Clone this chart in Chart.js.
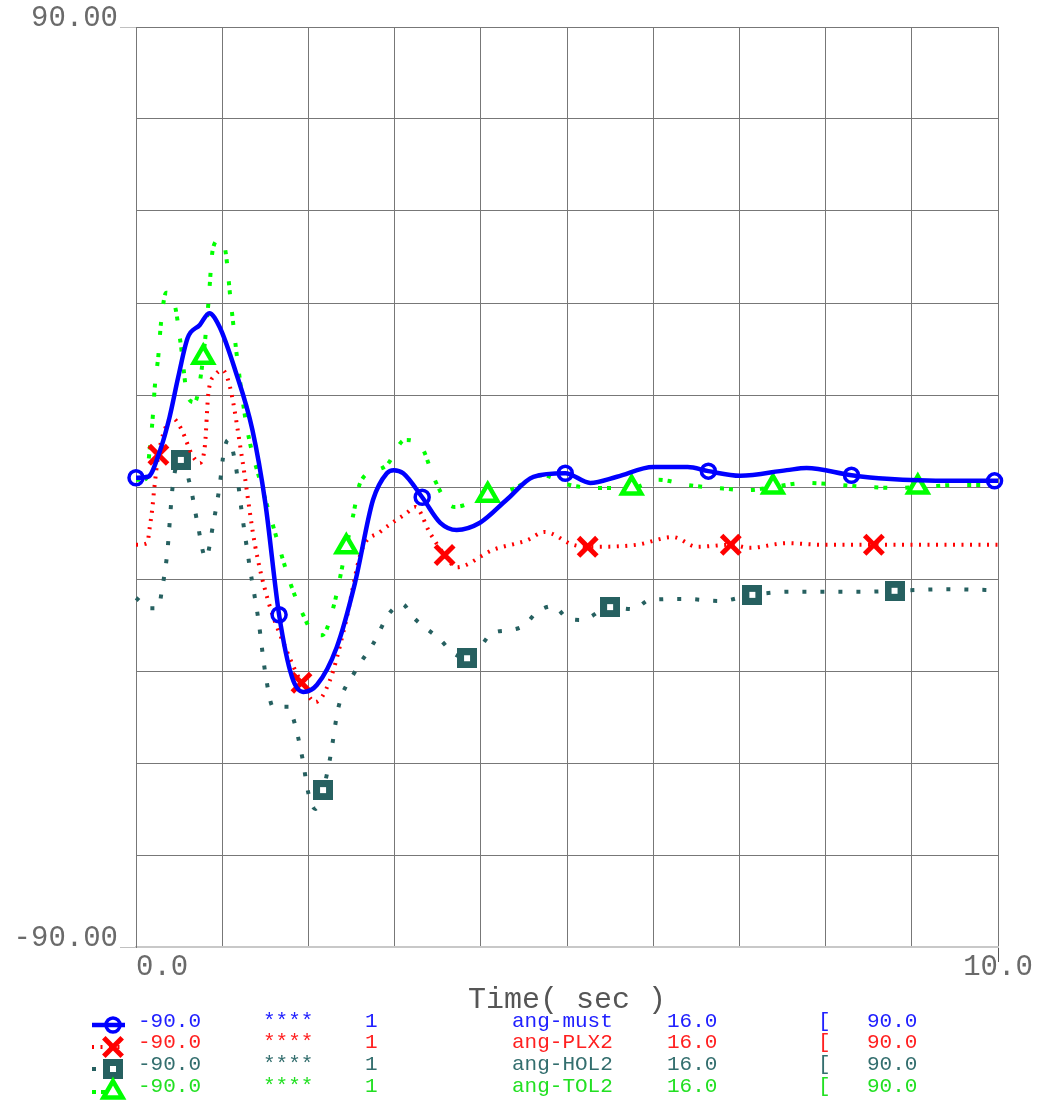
<!DOCTYPE html>
<html><head><meta charset="utf-8">
<script src="https://cdn.jsdelivr.net/npm/chart.js@4/dist/chart.umd.min.js"></script>
<style>
html,body{margin:0;padding:0;background:#fff;}
#wrap{position:relative;width:1038px;height:1105px;overflow:hidden;background:#fff;}
#c{position:absolute;left:0;top:0;}
.lg{position:absolute;font-family:'Liberation Mono',monospace;font-size:21px;line-height:21px;white-space:pre;}
</style></head><body>
<div id="wrap"><canvas id="c" width="1038" height="1105"></canvas></div>
<script>
// ---------- data (time in s, angle in degrees) ----------
const mustT = [0, 0.14, 0.28, 0.39, 0.49, 0.60, 0.74, 0.85, 0.97, 1.15, 1.35, 1.50, 1.66, 1.81, 1.94, 2.10, 2.33, 2.54, 2.75, 2.91, 2.99, 3.10, 3.32, 3.53, 3.72, 3.99, 4.30, 4.61, 4.98, 5.27, 5.58, 6.00, 6.40, 6.64, 7.01, 7.55, 7.78, 8.30, 8.71, 9.48, 9.96, 10.0];
const mustV = [1.8, 2.0, 7.2, 13.7, 21.5, 29.2, 31.7, 34.0, 31.3, 22.9, 11.2, -3.1, -25.0, -37.2, -40.1, -38.7, -31.3, -18.8, -2.5, 2.7, 3.3, 2.7, -2.0, -7.0, -8.4, -7.0, -2.5, 2.0, 2.7, 0.8, 2.0, 3.9, 3.9, 3.1, 2.2, 3.3, 3.7, 2.3, 1.6, 1.2, 1.2, 1.2];
const mustMarkT = [0, 1.66, 3.32, 4.98, 6.64, 8.30, 9.96];

const plxT = [0, 0.13, 0.16, 0.19, 0.21, 0.26, 0.37, 0.42, 0.53, 0.65, 0.74, 0.80, 0.84, 0.92, 1.00, 1.09, 1.23, 1.38, 1.53, 1.73, 1.92, 2.08, 2.25, 2.42, 2.62, 2.83, 3.14, 3.24, 3.41, 3.58, 3.72, 4.14, 4.54, 4.74, 5.07, 5.24, 5.81, 6.23, 6.51, 6.90, 7.12, 7.55, 7.97, 8.56, 9.20, 10.0];
const plxV = [-11.3, -11.0, -7.8, -4.1, -0.6, 6.3, 12.7, 13.5, 11.2, 6.3, 4.7, 8.2, 18.4, 21.9, 22.9, 19.6, 5.7, -11.3, -22.1, -31.3, -38.3, -42.1, -37.8, -27.4, -12.3, -8.8, -5.1, -3.9, -9.0, -13.3, -15.7, -12.3, -10.4, -8.8, -11.3, -11.7, -11.3, -9.8, -11.7, -11.3, -11.9, -11.0, -11.3, -11.3, -11.3, -11.3];
const plxMarkT = [0.26, 1.92, 3.58, 5.24, 6.90, 8.56];

const holT = [0, 0.16, 0.26, 0.30, 0.36, 0.43, 0.52, 0.63, 0.71, 0.81, 0.90, 0.97, 1.02, 1.07, 1.15, 1.23, 1.32, 1.42, 1.50, 1.59, 1.77, 1.84, 1.93, 2.00, 2.08, 2.17, 2.25, 2.35, 2.53, 2.75, 2.94, 3.09, 3.21, 3.53, 3.68, 3.84, 3.99, 4.13, 4.34, 4.51, 4.65, 4.84, 5.00, 5.17, 5.50, 5.77, 5.96, 6.37, 6.77, 7.15, 7.59, 7.99, 8.42, 8.80, 9.44, 10.0];
const holV = [-21.7, -23.7, -23.7, -20.2, -13.3, 0.8, 5.3, 0.2, -6.8, -13.9, -6.8, 0.2, 7.0, 9.2, 4.9, -5.3, -15.7, -26.0, -36.4, -43.0, -43.0, -46.2, -53.0, -59.9, -63.0, -59.3, -53.2, -43.0, -36.4, -30.7, -24.7, -22.9, -25.4, -29.9, -32.5, -33.5, -31.3, -28.6, -28.0, -27.0, -24.5, -23.3, -25.6, -26.0, -23.5, -23.9, -22.1, -21.9, -22.3, -21.1, -20.5, -20.5, -20.5, -20.3, -20.0, -20.2];
const holMarkT = [0.52, 2.17, 3.84, 5.50, 7.15, 8.80];

const tolT = [0, 0.12, 0.16, 0.19, 0.22, 0.26, 0.29, 0.35, 0.45, 0.52, 0.60, 0.68, 0.78, 0.84, 0.89, 0.96, 1.03, 1.10, 1.18, 1.29, 1.46, 1.58, 1.79, 1.93, 2.05, 2.16, 2.29, 2.44, 2.52, 2.60, 2.80, 2.91, 3.12, 3.32, 3.45, 3.61, 3.70, 4.08, 4.37, 4.71, 5.03, 5.36, 5.75, 6.06, 6.40, 6.74, 7.10, 7.39, 7.76, 8.17, 8.49, 8.84, 9.07, 9.56, 10.0];
const tolV = [1.4, 1.6, 7.6, 12.7, 20.0, 25.8, 32.1, 38.0, 35.6, 27.8, 17.6, 16.6, 25.4, 36.0, 46.4, 48.3, 46.8, 36.2, 24.3, 11.3, 0.0, -7.0, -18.8, -24.7, -28.4, -29.0, -23.5, -11.7, -5.5, 0.8, 3.3, 4.3, 9.2, 7.6, 2.0, -3.1, -3.9, -1.6, -0.4, 2.3, 0.4, -0.2, -0.2, 1.4, 0.4, -0.2, -0.6, 0.0, 0.8, 0.4, 0.0, -0.2, 0.0, 0.4, 0.4];
const tolMarkT = [0.78, 2.44, 4.08, 5.75, 7.39, 9.07];

const seriesNames = ['ang-must', 'ang-PLX2', 'ang-HOL2', 'ang-TOL2'];
const legendMin = ['-90.0', '-90.0', '-90.0', '-90.0'];
const legendStars = ['****', '****', '****', '****'];
const legendCount = ['1', '1', '1', '1'];
const legendScale = ['16.0', '16.0', '16.0', '16.0'];
const legendBracket = ['[', '[', '[', '['];
const legendMax = ['90.0', '90.0', '90.0', '90.0'];

const yTickLabels = {'90': '90.00', '-90': '-90.00'};
const xTickLabels = {'0': '   0.0', '10': '10.0'};
const xTitle = 'Time( sec )';

// ---------- styles ----------
const BLUE = '#0000ff', RED = '#ff0000', GRAY = '#266060', GREEN = '#00ff00';
const textColors = ['#2020ff', '#ff2020', '#336e6e', '#22e022'];
const FONT = "'Liberation Mono', monospace";

function toXY(t, v) { return t.map((x, i) => ({x: x, y: v[i]})); }
function mk(marks, r) { return ctx => (ctx.raw && marks.includes(ctx.raw.x)) ? r : 0; }

// square marker with white center
const SQ = 20;
const sq = document.createElement('canvas');
sq.width = SQ; sq.height = SQ;
(function () {
  const g = sq.getContext('2d');
  g.fillStyle = GRAY; g.fillRect(0, 0, SQ, SQ);
  g.fillStyle = '#fff'; g.fillRect(7, 7, 6, 6);
})();

const datasets = [
  {label: seriesNames[0], data: toXY(mustT, mustV), borderColor: BLUE, borderWidth: 4.5,
   pointStyle: 'circle', pointRadius: mk(mustMarkT, 7), pointBorderWidth: 3.5,
   pointBorderColor: BLUE, pointBackgroundColor: 'rgba(0,0,0,0)'},
  {label: seriesNames[1], data: toXY(plxT, plxV), borderColor: RED, borderWidth: 4, borderDash: [2, 6.5],
   pointStyle: 'crossRot', pointRadius: mk(plxMarkT, 13), pointBorderWidth: 5,
   pointBorderColor: RED, pointBackgroundColor: RED},
  {label: seriesNames[2], data: toXY(holT, holV), borderColor: GRAY, borderWidth: 4, borderDash: [4, 14],
   pointStyle: sq, pointRadius: mk(holMarkT, 10), pointBorderWidth: 0,
   pointBorderColor: GRAY, pointBackgroundColor: GRAY},
  {label: seriesNames[3], data: toXY(tolT, tolV), borderColor: GREEN, borderWidth: 4, borderDash: [4, 5, 4, 18],
   pointStyle: 'triangle', pointRadius: mk(tolMarkT, 11), pointBorderWidth: 4.5,
   pointBorderColor: GREEN, pointBackgroundColor: '#ffffff'}
].map(d => Object.assign(d, {fill: false, cubicInterpolationMode: 'monotone', clip: false, pointHoverRadius: 0}));

// legend symbols drawn on the canvas
const legendSymbols = {
  id: 'legendSymbols',
  afterDraw(chart) {
    const ctx = chart.ctx;
    const ys = [1025, 1047, 1069, 1092];
    const x0 = 92, xm = 113;
    chart.data.datasets.forEach((ds, i) => {
      const y = ys[i];
      ctx.save();
      ctx.strokeStyle = ds.borderColor;
      ctx.lineWidth = ds.borderWidth;
      ctx.setLineDash(ds.borderDash || []);
      ctx.beginPath(); ctx.moveTo(x0, y); ctx.lineTo(i === 0 ? 125 : 120, y); ctx.stroke();
      ctx.setLineDash([]);
      ctx.lineWidth = ds.pointBorderWidth;
      if (i === 0) {
        ctx.beginPath(); ctx.arc(xm, y, 7, 0, Math.PI * 2); ctx.stroke();
      } else if (i === 1) {
        const a = 13 * Math.SQRT1_2;
        ctx.beginPath();
        ctx.moveTo(xm - a, y - a); ctx.lineTo(xm + a, y + a);
        ctx.moveTo(xm + a, y - a); ctx.lineTo(xm - a, y + a);
        ctx.stroke();
      } else if (i === 2) {
        ctx.drawImage(sq, xm - SQ / 2, y - SQ / 2);
      } else {
        const r = 11;
        ctx.fillStyle = '#fff';
        ctx.beginPath();
        ctx.moveTo(xm, y - r);
        ctx.lineTo(xm + r * Math.sin(2 * Math.PI / 3), y - r * Math.cos(2 * Math.PI / 3));
        ctx.lineTo(xm + r * Math.sin(4 * Math.PI / 3), y - r * Math.cos(4 * Math.PI / 3));
        ctx.closePath(); ctx.fill(); ctx.stroke();
      }
      ctx.restore();
    });
  }
};

const chart = new Chart(document.getElementById('c'), {
  type: 'line',
  data: {datasets: datasets},
  plugins: [legendSymbols],
  options: {
    responsive: false,
    animation: false,
    events: [],
    layout: {padding: {left: 0, right: 40, top: 27, bottom: 87}},
    plugins: {legend: {display: false}, tooltip: {enabled: false}},
    scales: {
      x: {
        type: 'linear', min: 0, max: 10,
        afterFit: s => { s.height = 71; },
        ticks: {stepSize: 1, autoSkip: false, maxRotation: 0, padding: -12,
                color: '#6a6a6a', font: {family: FONT, size: 29},
                callback: v => xTickLabels[String(v)] || ''},
        grid: {color: '#777777', lineWidth: 1, tickLength: 15,
               tickColor: c => (c.tick && c.tick.value === 10) ? '#555' : 'rgba(0,0,0,0)'},
        border: {display: true, color: '#c8c8c8', width: 2},
        title: {display: true, text: xTitle, color: '#555', padding: 0,
                font: {family: FONT, size: 30}}
      },
      y: {
        type: 'linear', min: -90, max: 90,
        afterFit: s => { s.width = 136; },
        ticks: {stepSize: 18, autoSkip: false, padding: 2, labelOffset: -9,
                color: '#6a6a6a', font: {family: FONT, size: 29},
                callback: v => yTickLabels[String(v)] || ''},
        grid: {color: '#777777', lineWidth: 1, tickLength: 16,
               tickColor: c => (c.tick && Math.abs(c.tick.value) === 90) ? '#c0c0c0' : 'rgba(0,0,0,0)'},
        border: {display: true, color: '#777777', width: 1}
      }
    }
  }
});

// legend text (HTML)
(function () {
  const wrap = document.getElementById('wrap');
  const tops = [1011, 1032, 1054, 1076];
  const cols = [
    [138, legendMin], [263, legendStars], [365, legendCount], [512, seriesNames],
    [667, legendScale], [818, legendBracket], [867, legendMax]
  ];
  for (let r = 0; r < 4; r++) {
    cols.forEach(([x, arr]) => {
      const s = document.createElement('span');
      s.className = 'lg';
      s.style.left = x + 'px';
      s.style.top = tops[r] + 'px';
      s.style.color = textColors[r];
      s.textContent = arr[r];
      wrap.appendChild(s);
    });
  }
})();
</script>
</body></html>
